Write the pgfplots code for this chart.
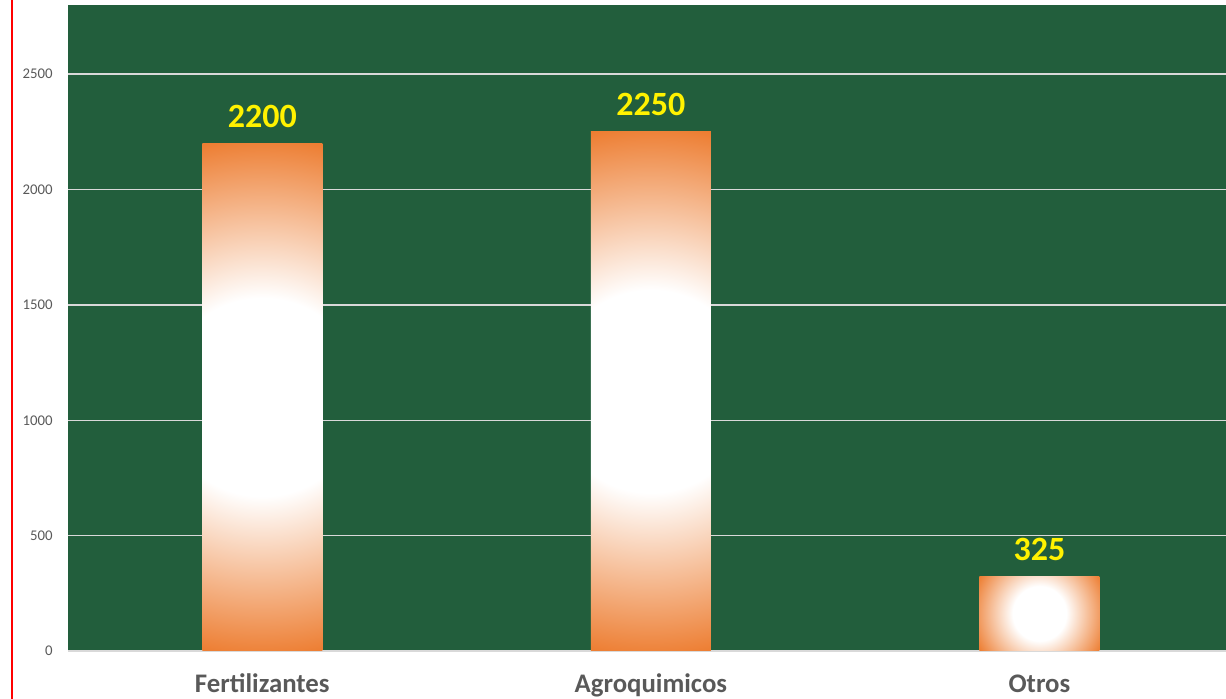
\documentclass[border=0pt]{standalone}
\usepackage{pgfplots}
\pgfplotsset{compat=1.18}
\usepackage{fontspec}
\setmainfont{Carlito}

\definecolor{barorange}{RGB}{237,125,49}
\definecolor{marble}{RGB}{34,94,60}
\definecolor{labelgrey}{RGB}{89,89,89}
\definecolor{gridgrey}{RGB}{217,217,217}

% "from centre" gradient: white up to 38% of the half diagonal, orange at the corners
% tall bars (about 120 x 514 px)
\pgfdeclarefunctionalshading{tallbar}{\pgfpoint{-50bp}{-50bp}}{\pgfpoint{50bp}{50bp}}{}{
  0.03895 mul dup mul exch 0.009094 mul dup mul add sqrt
  0.38 sub 0.62 div dup 0 lt {pop 0} if dup 1 gt {pop 1} if
  dup 0.071 mul 1 exch sub exch dup 0.51 mul 1 exch sub exch 0.808 mul 1 exch sub}
% short bar (about 121 x 74 px)
\pgfdeclarefunctionalshading{shortbar}{\pgfpoint{-50bp}{-50bp}}{\pgfpoint{50bp}{50bp}}{}{
  0.02087 mul dup mul exch 0.03413 mul dup mul add sqrt
  0.38 sub 0.62 div dup 0 lt {pop 0} if dup 1 gt {pop 1} if
  dup 0.071 mul 1 exch sub exch dup 0.51 mul 1 exch sub exch 0.808 mul 1 exch sub}

\begin{document}
\begin{tikzpicture}[x=1pt,y=1pt]
\useasboundingbox (-34,-24) rectangle (579,325.5);
\draw[red, line width=1pt] (-27.75,-24) -- (-27.75,325.5);
\begin{axis}[
    at={(0,0)}, anchor=south west,
    scale only axis,
    width=579pt, height=323pt,
    xmin=-0.5, xmax=2.48,
    ymin=0, ymax=2800,
    axis background/.style={fill=marble},
    axis line style={draw=none},
    tick style={draw=none},
    major tick length=0pt,
    xtick={0,1,2},
    xticklabels={Fertilizantes, Agroquimicos, Otros},
    ytick={0,500,...,2500},
    ymajorgrids,
    major grid style={draw=gridgrey, line width=0.75pt},
    /pgf/number format/1000 sep={},
    /pgf/number format/assume math mode=true,
    xticklabel style={font=\bfseries\fontsize{13.4}{16}\selectfont, text=labelgrey,
        anchor=base, yshift=-21pt, inner sep=0pt},
    yticklabel style={font=\fontsize{7.4}{9}\selectfont, text=labelgrey,
        anchor=east, inner sep=0pt, xshift=-7.5pt},
    nodes near coords,
    nodes near coords style={font=\bfseries\fontsize{17}{20}\selectfont, text=yellow,
        anchor=base, yshift=8pt, inner sep=0pt},
]
\addplot[ybar, bar width=60pt, bar shift=0pt, draw=none, shade, shading=tallbar]
    coordinates {(0,2200)};
\addplot[ybar, bar width=60pt, bar shift=0pt, draw=none, shade, shading=tallbar]
    coordinates {(1,2250)};
\addplot[ybar, bar width=60pt, bar shift=0pt, draw=none, shade, shading=shortbar]
    coordinates {(2,325)};
\end{axis}
\end{tikzpicture}
\end{document}
